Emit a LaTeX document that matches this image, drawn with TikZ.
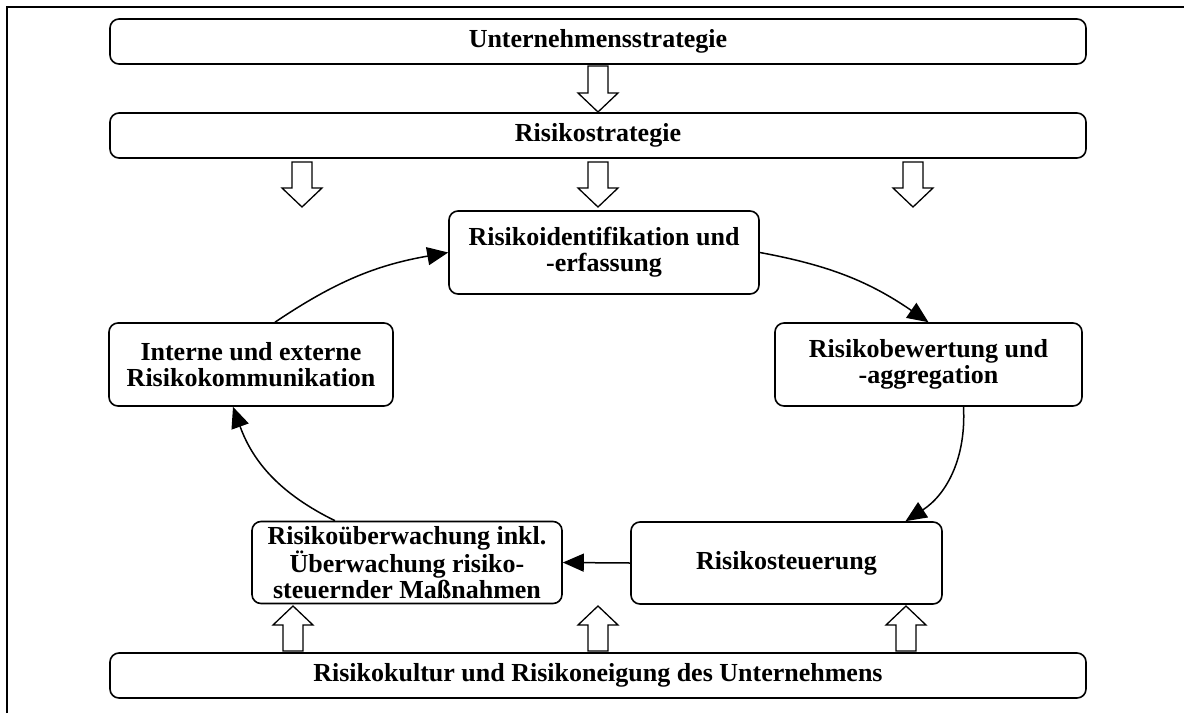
\documentclass[tikz,border=0pt]{standalone}
\usepackage{fontspec}
\setmainfont{Liberation Serif}
\usetikzlibrary{arrows.meta}

\tikzset{
  box/.style={draw, line width=1.6pt, rounded corners=9pt, align=center,
    font=\fontsize{26}{26}\selectfont\bfseries, inner sep=0pt},
  wide/.style={box, minimum width=976pt, minimum height=45pt},
  cyc/.style={line width=1.5pt, -{Triangle[length=21pt,width=18pt]}},
  blockarr/.style={draw, line width=1.3pt, fill=white}
}

\begin{document}
\begin{tikzpicture}[x=1pt,y=-1pt]
\useasboundingbox (0,0) rectangle (1184,713);
\draw[line width=2.5pt] (7,713) -- (7,7) -- (1184,7);

\node[wide] (strat) at (598,41.5) {Unternehmensstrategie};
\node[wide] (rstrat) at (598,135.5) {Risikostrategie};
\node[wide] (kultur) at (598,675.5) {Risikokultur und Risikoneigung des Unternehmens};

\node[box, minimum width=310pt, minimum height=83pt] (ident) at (604,252.5) {Risikoidentifikation und\\-erfassung};
\node[box, minimum width=307pt, minimum height=83pt] (bew) at (928.5,364.5) {Risikobewertung und\\-aggregation};
\node[box, minimum width=311pt, minimum height=82pt] (steu) at (786.5,563) {Risikosteuerung};
\node[box, minimum width=310pt, minimum height=82pt] (ueberw) at (407,562.5) {Risikoüberwachung inkl.\\Überwachung risiko-\\steuernder Maßnahmen};
\node[box, minimum width=284pt, minimum height=83pt] (komm) at (251,364.5) {Interne und externe\\Risikokommunikation};

% Kreislauf
\draw[cyc] (ident.east) to[bend left=12] (bew.north);
\draw[cyc] ([xshift=35pt]bew.south) to[bend left=30] ([xshift=119pt]steu.north);
\draw[cyc] (steu.west) -- (ueberw.east);
\draw[cyc] ([xshift=-72pt]ueberw.north) to[bend left=22] ([xshift=-18pt]komm.south);
\draw[cyc] ([xshift=24pt]komm.north) to[bend left=12] (ident.west);

% Blockpfeile nach unten
\draw[blockarr] (588,66) -- (608,66) -- (608,93) -- (618,93) -- (598,112) -- (578,93) -- (588,93) -- cycle;
\foreach \x in {302,598,913}
  \draw[blockarr] ({\x-10},162) -- ({\x+10},162) -- ({\x+10},188) -- ({\x+20},188)
    -- (\x,207) -- ({\x-20},188) -- ({\x-10},188) -- cycle;

% Blockpfeile nach oben
\foreach \x in {293,598,906}
  \draw[blockarr] ({\x-10},651) -- ({\x+10},651) -- ({\x+10},625) -- ({\x+20},625)
    -- (\x,606) -- ({\x-20},625) -- ({\x-10},625) -- cycle;
\end{tikzpicture}
\end{document}
